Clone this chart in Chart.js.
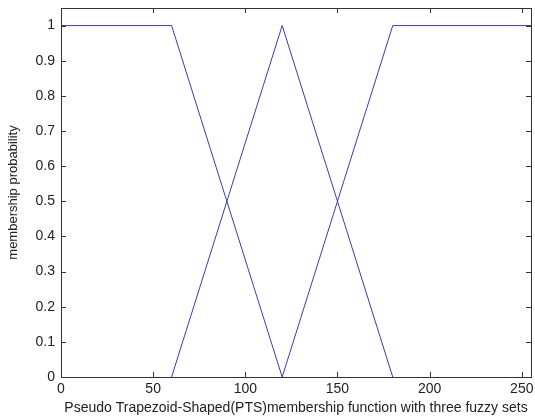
<!DOCTYPE html>
<html>
<head>
<meta charset="utf-8">
<script src="https://cdn.jsdelivr.net/npm/chart.js@4/dist/chart.umd.min.js"></script>
<style>
  html, body { margin: 0; padding: 0; background: #fff; }
  #wrap { width: 535px; height: 419px; position: relative; }
</style>
</head>
<body>
<div id="wrap"><canvas id="pts-chart"></canvas></div>
<script>
// membership functions, x = grey level, y = membership
const lowX = [0, 60, 120];
const lowY = [1, 1, 0];
const midX = [60, 120, 180];
const midY = [0, 1, 0];
const highX = [120, 180, 255];
const highY = [0, 1, 1];

const xTicks = [0, 50, 100, 150, 200, 250];
const yTicks = [0, 0.1, 0.2, 0.3, 0.4, 0.5, 0.6, 0.7, 0.8, 0.9, 1];

const toPoints = (xs, ys) => xs.map((x, i) => ({ x: x, y: ys[i] }));

const lineColor = '#3b3bb0';
const font = { family: 'Liberation Sans', size: 14 };

// matlab-ish box with inward ticks
const boxPlugin = {
    id: 'box',
    afterDraw(chart) {
        const { ctx, chartArea: a, scales } = chart;
        ctx.save();
        ctx.strokeStyle = '#333';
        ctx.lineWidth = 1;
        ctx.strokeRect(a.left + 0.5, a.top + 0.5, a.right - a.left, a.bottom - a.top);
        ctx.beginPath();
        const len = 5;
        xTicks.forEach(v => {
            let px = Math.round(scales.x.getPixelForValue(v)) + 0.5;
            ctx.moveTo(px, a.bottom); ctx.lineTo(px, a.bottom - len);
            ctx.moveTo(px, a.top); ctx.lineTo(px, a.top + len);
        });
        yTicks.forEach(v => {
            let py = Math.round(scales.y.getPixelForValue(v)) + 0.5;
            ctx.moveTo(a.left, py); ctx.lineTo(a.left + len, py);
            ctx.moveTo(a.right, py); ctx.lineTo(a.right - len, py);
        });
        ctx.stroke();
        ctx.restore();
    }
};

const makeSet = (label, xs, ys) => ({
    label: label,
    data: toPoints(xs, ys),
    showLine: true,
    borderColor: lineColor,
    borderWidth: 1,
    pointRadius: 0,
    tension: 0,
    fill: false,
});

new Chart(document.getElementById('pts-chart'), {
    type: 'scatter',
    data: {
        datasets: [
            makeSet('low', lowX, lowY),
            makeSet('medium', midX, midY),
            makeSet('high', highX, highY),
        ]
    },
    options: {
        responsive: true,
        maintainAspectRatio: false,
        animation: false,
        layout: { padding: { top: 8, right: 4, left: 0, bottom: 0 } },
        plugins: {
            legend: { display: false },
            tooltip: { enabled: false },
        },
        scales: {
            x: {
                type: 'linear',
                min: 0,
                max: 255,
                afterBuildTicks: s => { s.ticks = xTicks.map(v => ({ value: v })); },
                afterFit: s => { s.height = 42; s.paddingLeft = 0; s.paddingRight = 0; },
                grid: { display: false, drawTicks: false },
                border: { display: false },
                ticks: { color: '#222', font: font, padding: 4, maxRotation: 0, callback: v => String(v) },
                title: {
                    display: true,
                    text: 'Pseudo Trapezoid-Shaped(PTS)membership function with three fuzzy sets',
                    color: '#222',
                    font: { family: 'Liberation Sans', size: 14 },
                    padding: { top: 1, bottom: 2 },
                },
            },
            y: {
                type: 'linear',
                min: 0,
                max: 1.05,
                afterBuildTicks: s => { s.ticks = yTicks.map(v => ({ value: v })); },
                afterFit: s => { s.width = 61; s.paddingTop = 0; s.paddingBottom = 0; },
                grid: { display: false, drawTicks: false },
                border: { display: false },
                ticks: { color: '#222', font: font, padding: 6, callback: v => String(v) },
                title: {
                    display: true,
                    text: 'membership probability',
                    color: '#222',
                    font: { family: 'Liberation Sans', size: 13 },
                    padding: { top: 6, bottom: 0 },
                },
            },
        },
    },
    plugins: [boxPlugin],
});
</script>
</body>
</html>
